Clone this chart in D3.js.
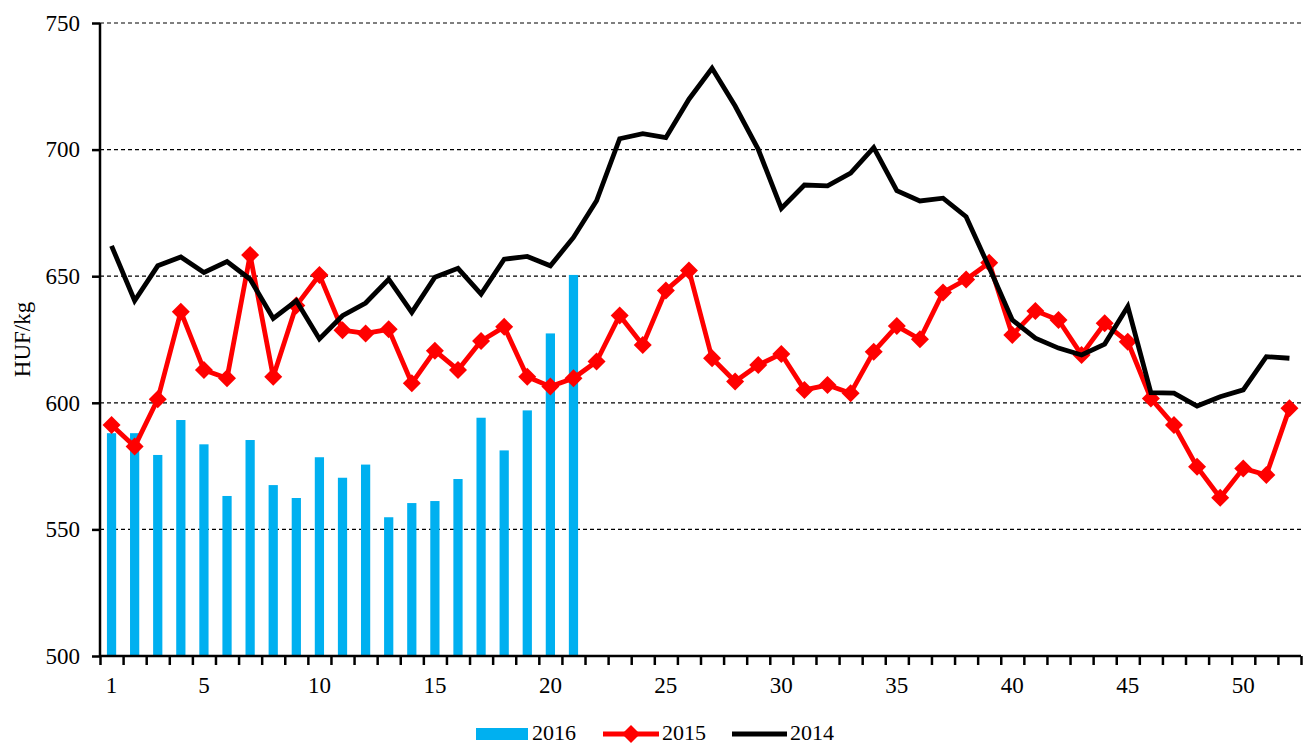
<!DOCTYPE html>
<html>
<head>
<meta charset="utf-8">
<script src="https://cdn.jsdelivr.net/npm/d3@7"></script>
<style>
  body { margin: 0; background: #fff; }
  svg { display: block; }
</style>
</head>
<body>
<svg id="chart" width="1303" height="746"></svg>
<script>
const width = 1303;
const height = 746;
const margin = { top: 23, right: 2, bottom: 90, left: 100 };
const fontSerif = '"Liberation Serif", "Times New Roman", serif';

// weekly prices, HUF/kg
const weeks = d3.range(1, 53);
const weekLabels = [1, 5, 10, 15, 20, 25, 30, 35, 40, 45, 50];
const yTicks = [500, 550, 600, 650, 700, 750];

const series2016 = [588, 588, 579.4, 593.2, 583.6, 563.2, 585.3, 567.5, 562.4, 578.5,
  570.4, 575.6, 554.8, 560.4, 561.2, 569.9, 594.1, 581.2, 597.0, 627.4, 650.5];

const series2015 = [591.2, 582.7, 601.4, 636.0, 613.0, 609.7, 658.4, 610.3, 638.4, 650.5,
  628.7, 627.4, 629.0, 607.7, 620.6, 613.0, 624.4, 630.0, 610.3, 606.4,
  609.7, 616.3, 634.5, 622.8, 644.4, 652.3, 617.6, 608.4, 614.9, 619.3,
  605.1, 607.0, 603.8, 620.2, 630.3, 625.1, 643.6, 648.7, 655.3, 626.8,
  636.3, 632.7, 618.9, 631.4, 624.1, 601.7, 591.2, 574.7, 562.5, 574.1,
  571.5, 597.8];

const series2014 = [662, 640.3, 654.1, 657.6, 651.5, 655.8, 648.8, 633.3, 640.3, 625.2,
  634.4, 639.4, 648.8, 635.7, 649.6, 653.1, 642.9, 656.7, 657.8, 654.1,
  665.3, 679.8, 704.3, 706.3, 704.7, 719.9, 732.1, 717.2, 700.1, 676.8,
  686.0, 685.7, 690.7, 700.8, 683.8, 679.7, 680.8, 673.5, 653.4, 632.7,
  625.5, 621.6, 618.9, 623.2, 638.0, 604.0, 603.8, 598.7, 602.4, 605.1,
  618.2, 617.6];

const legendItems = ['2016', '2015', '2014'];

const plotW = width - margin.left - margin.right;
const plotH = height - margin.top - margin.bottom;

const svg = d3.select('#chart');
const g = svg.append('g').attr('transform', `translate(${margin.left},${margin.top})`);

const x = d3.scaleLinear().domain([0.5, 52.5]).range([0, plotW]);
const y = d3.scaleLinear().domain([500, 750]).range([plotH, 0]);
const step = x(2) - x(1);
const barW = step * 0.4;

// dashed gridlines
g.append('g')
  .selectAll('line')
  .data(yTicks.filter(d => d > 500))
  .enter().append('line')
  .attr('x1', 0)
  .attr('x2', plotW)
  .attr('y1', d => y(d))
  .attr('y2', d => y(d))
  .attr('stroke', '#000')
  .attr('stroke-width', 1.2)
  .attr('stroke-dasharray', '4,3');

// 2016 bars
g.append('g')
  .selectAll('rect')
  .data(series2016)
  .enter().append('rect')
  .attr('x', (d, i) => x(i + 1) - barW / 2)
  .attr('y', d => y(d))
  .attr('width', barW)
  .attr('height', d => plotH - y(d))
  .attr('fill', '#00B0F0');

// 2015 line with diamonds
const line = d3.line().x((d, i) => x(i + 1)).y(d => y(d));
const diamond = 'M0,-9L9,0L0,9L-9,0Z';

g.append('path')
  .datum(series2015)
  .attr('d', line)
  .attr('fill', 'none')
  .attr('stroke', '#FF0000')
  .attr('stroke-width', 4.8)
  .attr('stroke-linejoin', 'round');

g.append('g')
  .selectAll('path')
  .data(series2015)
  .enter().append('path')
  .attr('d', diamond)
  .attr('transform', (d, i) => `translate(${x(i + 1)},${y(d)})`)
  .attr('fill', '#FF0000');

// 2014 line
g.append('path')
  .datum(series2014)
  .attr('d', line)
  .attr('fill', 'none')
  .attr('stroke', '#000')
  .attr('stroke-width', 4.8)
  .attr('stroke-linejoin', 'miter');

// y axis (ticks from d3, labels drawn separately)
const yAxis = g.append('g')
  .call(d3.axisLeft(y).tickValues(yTicks).tickSize(8).tickFormat(''));
yAxis.select('.domain').attr('stroke-width', 2.5).attr('d', `M0,0V${plotH}`);
yAxis.selectAll('.tick line').attr('stroke-width', 2.5);

g.append('g')
  .selectAll('text')
  .data(yTicks)
  .enter().append('text')
  .attr('x', -20)
  .attr('y', d => y(d))
  .attr('dy', '0.34em')
  .attr('text-anchor', 'end')
  .attr('font-family', fontSerif)
  .attr('font-size', 23)
  .text(d => d);

// x axis: ticks on week boundaries, labels on week centres
const xTicks = g.append('g')
  .attr('transform', `translate(0,${plotH})`)
  .call(d3.axisBottom(x).tickValues(d3.range(0.5, 53, 1)).tickSize(9).tickFormat(''));
xTicks.select('.domain').attr('stroke-width', 2.5).attr('d', `M0,0H${plotW}`);
xTicks.selectAll('.tick line').attr('stroke-width', 2.5);

g.append('g')
  .selectAll('text')
  .data(weekLabels)
  .enter().append('text')
  .attr('x', d => x(d))
  .attr('y', plotH + 37)
  .attr('text-anchor', 'middle')
  .attr('font-family', fontSerif)
  .attr('font-size', 23)
  .text(d => d);

// y axis title
svg.append('text')
  .attr('transform', `translate(30,${margin.top + plotH / 2}) rotate(-90)`)
  .attr('text-anchor', 'middle')
  .attr('font-family', fontSerif)
  .attr('font-size', 23)
  .text('HUF/kg');

// legend
const legend = svg.append('g').attr('transform', 'translate(0,734)');
const legendX = [476, 603, 732];

legend.append('rect')
  .attr('x', legendX[0]).attr('y', -6)
  .attr('width', 52).attr('height', 12)
  .attr('fill', '#00B0F0');

legend.append('line')
  .attr('x1', legendX[1]).attr('x2', legendX[1] + 56)
  .attr('stroke', '#FF0000').attr('stroke-width', 4.8);
legend.append('path')
  .attr('d', diamond)
  .attr('transform', `translate(${legendX[1] + 28},0)`)
  .attr('fill', '#FF0000');

legend.append('line')
  .attr('x1', legendX[2]).attr('x2', legendX[2] + 55)
  .attr('stroke', '#000').attr('stroke-width', 4.8);

legend.selectAll('text.lbl')
  .data(legendItems)
  .enter().append('text')
  .attr('class', 'lbl')
  .attr('x', (d, i) => legendX[i] + [56, 59, 58][i])
  .attr('y', 6)
  .attr('font-family', fontSerif)
  .attr('font-size', 22)
  .text(d => d);
</script>
</body>
</html>
